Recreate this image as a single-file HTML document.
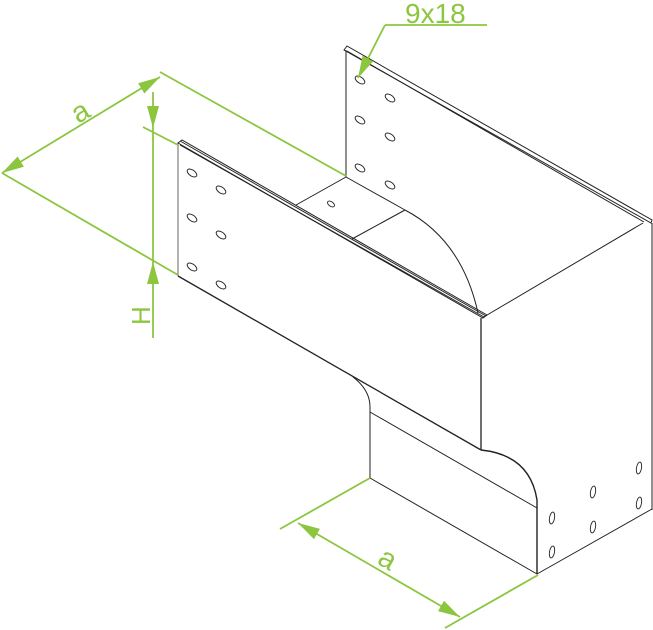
<!DOCTYPE html>
<html><head><meta charset="utf-8"><style>html,body{margin:0;padding:0;background:#fff}svg{display:block}</style></head>
<body>
<svg width="653" height="630" viewBox="0 0 653 630" xmlns="http://www.w3.org/2000/svg">
<defs>
<marker id="ar" viewBox="0 0 22 12" refX="22" refY="6" markerWidth="22" markerHeight="12" markerUnits="userSpaceOnUse" orient="auto-start-reverse">
<path d="M0,0 L22,6 L0,12 z" fill="#8cc63f"/>
</marker>
</defs>
<g fill="none" stroke="#222" stroke-width="1">
<line x1="346" y1="50" x2="346" y2="177"/>
<path d="M344,50 L347,46 L652,220 L651,223 Z"/>
<line x1="347" y1="51" x2="644" y2="222"/>
<line x1="643" y1="223" x2="482" y2="318"/>
<line x1="652" y1="223" x2="652" y2="510"/>
<line x1="178" y1="143" x2="178" y2="276" stroke="#666"/>
<path d="M178,143 L182,140 L487,315 L483,318 Z"/>
<line x1="180" y1="145" x2="484" y2="317"/>
<line x1="181" y1="141.5" x2="486" y2="316"/>
<line x1="178" y1="276" x2="481" y2="450" stroke-width="1.3"/>
<line x1="481" y1="318" x2="481" y2="450" stroke-width="1.3"/>
<line x1="346" y1="177" x2="405" y2="210"/>
<line x1="296" y1="205" x2="346" y2="177"/>
<line x1="352" y1="239" x2="405" y2="210"/>
<path d="M405,210 Q462,240 478,313"/>
<path d="M353,377 Q370,390 370,407 L370,478"/>
<line x1="370" y1="412" x2="537" y2="508"/>
<line x1="370" y1="478" x2="537" y2="574"/>
<path d="M481,450 Q530,455 537,500 L537,574" stroke-width="1.4"/>
<line x1="537" y1="574" x2="652" y2="509"/>
<g stroke-width="0.9">
<ellipse cx="360" cy="80" rx="3" ry="5.5" transform="rotate(-55 360 80)"/>
<ellipse cx="390" cy="98" rx="3" ry="5.5" transform="rotate(-55 390 98)"/>
<ellipse cx="360" cy="120" rx="3" ry="5.5" transform="rotate(-55 360 120)"/>
<ellipse cx="390" cy="137" rx="3" ry="5.5" transform="rotate(-55 390 137)"/>
<ellipse cx="360" cy="168" rx="3" ry="5.5" transform="rotate(-55 360 168)"/>
<ellipse cx="390" cy="185" rx="3" ry="5.5" transform="rotate(-55 390 185)"/>
<ellipse cx="192" cy="173" rx="3" ry="5.5" transform="rotate(-55 192 173)"/>
<ellipse cx="221" cy="190" rx="3" ry="5.5" transform="rotate(-55 221 190)"/>
<ellipse cx="192" cy="218" rx="3" ry="5.5" transform="rotate(-55 192 218)"/>
<ellipse cx="221" cy="235" rx="3" ry="5.5" transform="rotate(-55 221 235)"/>
<ellipse cx="192" cy="267" rx="3" ry="5.5" transform="rotate(-55 192 267)"/>
<ellipse cx="221" cy="285" rx="3" ry="5.5" transform="rotate(-55 221 285)"/>
<ellipse cx="331" cy="204" rx="2.3" ry="4" transform="rotate(-55 331 204)"/>
<ellipse cx="552" cy="518" rx="2.5" ry="6" transform="rotate(10 552 518)"/>
<ellipse cx="552" cy="552" rx="2.5" ry="6" transform="rotate(10 552 552)"/>
<ellipse cx="593" cy="492" rx="2.5" ry="6" transform="rotate(10 593 492)"/>
<ellipse cx="593" cy="527" rx="2.5" ry="6" transform="rotate(10 593 527)"/>
<ellipse cx="639" cy="468" rx="2.5" ry="6" transform="rotate(10 639 468)"/>
<ellipse cx="639" cy="503" rx="2.5" ry="6" transform="rotate(10 639 503)"/>
</g>
</g>
<g stroke="#8cc63f" stroke-width="1.8" fill="none">
<line x1="385" y1="25" x2="487" y2="25"/>
<line x1="385" y1="25" x2="358" y2="78" marker-end="url(#ar)"/>
<line x1="160" y1="72" x2="346" y2="176"/>
<line x1="2" y1="173" x2="178" y2="275"/>
<line x1="2" y1="173" x2="160" y2="77" marker-start="url(#ar)" marker-end="url(#ar)"/>
<line x1="143" y1="127" x2="178" y2="145"/>
<line x1="153" y1="92" x2="153" y2="128" marker-end="url(#ar)"/>
<line x1="153" y1="128" x2="153" y2="262"/>
<line x1="153" y1="338" x2="153" y2="262" marker-end="url(#ar)"/>
<line x1="370" y1="478" x2="280" y2="529"/>
<line x1="538" y1="575" x2="445" y2="628"/>
<line x1="298" y1="523" x2="460" y2="617" marker-start="url(#ar)" marker-end="url(#ar)"/>
</g>
<g fill="#8cc63f" font-family="Liberation Sans, sans-serif">
<text x="405" y="23" font-size="28">9x18</text>
<text x="0" y="0" font-size="29" transform="translate(78,124) rotate(-30)">a</text>
<text x="0" y="0" font-size="26" transform="translate(150,325) rotate(-90)">H</text>
<text x="0" y="0" font-size="29" transform="translate(376,563) rotate(30)">a</text>
</g>
</svg>
</body></html>
